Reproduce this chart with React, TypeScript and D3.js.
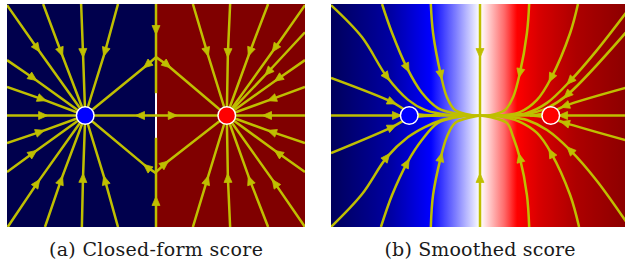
import React from "react";
import * as d3 from "d3";

type Pt = [number, number];
type Stream = { pts: Pt[]; arrow: number };

// positions of the two data points (both panels)
const dotX = [-1.9, 1.9];
const dotColor = ["#0000ff", "#ff0000"];

// (a) closed-form score: straight streamlines, arrow at pts[arrow]
const closedLines: Stream[] = [
  // upper left
  { pts: [[-4, 2.97], [-3.19, 1.81], [-1.9, 0]], arrow: 1 },
  { pts: [[-3.03, 3], [-2.55, 1.71], [-1.9, 0]], arrow: 1 },
  { pts: [[-2.01, 3], [-1.96, 1.68], [-1.9, 0]], arrow: 1 },
  { pts: [[-1.02, 3], [-1.37, 1.71], [-1.9, 0]], arrow: 1 },
  { pts: [[0, 1.57], [-0.24, 1.36], [-1.9, 0]], arrow: 1 },
  { pts: [[-4, 1.49], [-3.3, 1.01], [-1.9, 0]], arrow: 1 },
  { pts: [[-4, 0.77], [-3.06, 0.44], [-1.9, 0]], arrow: 1 },
  { pts: [[-4, 0], [-3.03, 0], [-1.9, 0]], arrow: 1 },
  { pts: [[0, 0], [-0.43, 0], [-1.9, 0]], arrow: 1 },
  // lower left
  { pts: [[-4, -0.74], [-3.11, -0.44], [-1.9, 0]], arrow: 1 },
  { pts: [[-4, -1.52], [-3.3, -1.01], [-1.9, 0]], arrow: 1 },
  { pts: [[-3.98, -3], [-3.19, -1.82], [-1.9, 0]], arrow: 1 },
  { pts: [[-2.98, -3], [-2.55, -1.74], [-1.9, 0]], arrow: 1 },
  { pts: [[-1.99, -3], [-1.96, -1.68], [-1.9, 0]], arrow: 1 },
  { pts: [[-1.02, -3], [-1.37, -1.74], [-1.9, 0]], arrow: 1 },
  { pts: [[0, -1.55], [-0.24, -1.39], [-1.9, 0]], arrow: 1 },
  // divider
  { pts: [[0, 3], [0, 2.3], [0, 0.6]], arrow: 1 },
  { pts: [[0, -3], [0, -2.3], [0, -0.6]], arrow: 1 },
  // upper right
  { pts: [[0.99, 3], [1.37, 1.71], [1.9, 0]], arrow: 1 },
  { pts: [[1.99, 3], [1.93, 1.68], [1.9, 0]], arrow: 1 },
  { pts: [[3.01, 3], [2.52, 1.71], [1.9, 0]], arrow: 1 },
  { pts: [[4, 2.97], [3.19, 1.81], [1.9, 0]], arrow: 1 },
  { pts: [[4, 2.24], [3.01, 1.17], [1.9, 0]], arrow: 1 },
  { pts: [[4, 1.49], [3.28, 0.99], [1.9, 0]], arrow: 1 },
  { pts: [[4, 0.77], [3.11, 0.44], [1.9, 0]], arrow: 1 },
  { pts: [[4, 0], [2.98, 0], [1.9, 0]], arrow: 1 },
  { pts: [[0, 0], [0.45, 0], [1.9, 0]], arrow: 1 },
  { pts: [[0, 1.57], [0.3, 1.36], [1.9, 0]], arrow: 1 },
  // lower right
  { pts: [[0.99, -3], [1.37, -1.74], [1.9, 0]], arrow: 1 },
  { pts: [[1.99, -3], [1.93, -1.68], [1.9, 0]], arrow: 1 },
  { pts: [[3.01, -3], [2.52, -1.74], [1.9, 0]], arrow: 1 },
  { pts: [[4, -3], [3.19, -1.82], [1.9, 0]], arrow: 1 },
  { pts: [[4, -0.74], [3.11, -0.44], [1.9, 0]], arrow: 1 },
  { pts: [[4, -1.52], [3.28, -1.01], [1.9, 0]], arrow: 1 },
  { pts: [[0, -1.52], [0.24, -1.3], [1.9, 0]], arrow: 1 },
];

// (b) smoothed score: curved streamlines
const smoothLines: Stream[] = [
  // upper left
  { pts: [[-4, 2.97], [-3.17, 2.11], [-2.5, 1.04], [-1.93, 0.42], [-1.48, 0.15], [-1.02, 0.04], [-0.67, 0]], arrow: 2 },
  { pts: [[-4, 1.01], [-2.36, 0.36], [-2.01, 0.15], [-1.74, 0.04], [-1.07, 0]], arrow: 1 },
  { pts: [[-2.63, 3], [-2.36, 2.22], [-1.96, 1.28], [-1.56, 0.61], [-1.13, 0.2], [-0.59, 0.04], [-0.27, 0]], arrow: 2 },
  { pts: [[-1.32, 3], [-1.26, 2.22], [-1.05, 1.09], [-0.89, 0.5], [-0.67, 0.15], [-0.21, 0.01], [0, 0]], arrow: 2 },
  { pts: [[-4, 0], [-2.23, 0], [-1.9, 0]], arrow: 1 },
  // lower left
  { pts: [[-4, -3], [-3.17, -2.12], [-2.5, -1.12], [-1.93, -0.58], [-1.48, -0.31], [-1.02, -0.12], [-0.67, -0.04], [-0.4, 0]], arrow: 2 },
  { pts: [[-4, -1.01], [-2.36, -0.31], [-2.01, -0.12], [-1.74, -0.04], [-1.07, 0]], arrow: 1 },
  { pts: [[-2.66, -3], [-2.36, -2.14], [-1.96, -1.28], [-1.56, -0.66], [-1.13, -0.2], [-0.59, -0.04], [-0.27, 0]], arrow: 2 },
  { pts: [[-1.32, -3], [-1.26, -2.14], [-1.05, -1.12], [-0.89, -0.58], [-0.67, -0.2], [-0.21, -0.04], [0, 0]], arrow: 2 },
  // centre
  { pts: [[0, 0], [-1.9, 0]], arrow: -1 },
  { pts: [[0, 0], [1.9, 0]], arrow: -1 },
  { pts: [[0, 3], [0, 1.68], [0, 0]], arrow: 1 },
  { pts: [[0, -3], [0, -1.68], [0, 0]], arrow: 1 },
  // upper right
  { pts: [[1.32, 3], [1.26, 2.22], [1.07, 1.14], [0.89, 0.5], [0.67, 0.15], [0.27, 0.01], [0, 0]], arrow: 2 },
  { pts: [[2.63, 3], [2.42, 2.22], [1.91, 1.01], [1.53, 0.42], [1.07, 0.09], [0.62, 0.01], [0.27, 0]], arrow: 2 },
  { pts: [[4, 2.87], [3.14, 1.76], [2.42, 0.93], [1.8, 0.34], [1.26, 0.07], [0.81, 0.01], [0.4, 0]], arrow: 2 },
  { pts: [[4, 2.33], [2.34, 0.55], [1.8, 0.2], [1.26, 0.04], [0.81, 0]], arrow: 1 },
  { pts: [[4, 0.77], [2.28, 0.26], [1.91, 0.09], [1.34, 0]], arrow: 1 },
  { pts: [[4, 0], [2.23, 0], [1.9, 0]], arrow: 1 },
  // lower right
  { pts: [[1.32, -3], [1.26, -2.14], [1.07, -1.14], [0.89, -0.58], [0.72, -0.2], [0.27, -0.04], [0, 0]], arrow: 2 },
  { pts: [[2.66, -3], [2.42, -2.14], [1.91, -1.01], [1.53, -0.47], [1.07, -0.17], [0.62, -0.04], [0.27, 0]], arrow: 2 },
  { pts: [[4, -2.97], [3.14, -1.76], [2.42, -0.93], [1.8, -0.39], [1.26, -0.12], [0.81, -0.04], [0.4, 0]], arrow: 2 },
  { pts: [[4, -0.69], [2.28, -0.2], [1.91, -0.07], [1.34, 0]], arrow: 1 },
];

// (b) background: colormap value across x
const gradX = [-4, -2.39, -1.32, -0.67, -0.05, 0, 0.11, 0.67, 0.99, 1.61, 2.55, 4];
const gradV = [0.02, 0.12, 0.25, 0.37, 0.49, 0.5, 0.52, 0.65, 0.75, 0.83, 0.91, 0.98];

const captions = ["(a) Closed-form score", "(b) Smoothed score"];

const seismic = d3
  .scaleLinear<string>()
  .domain([0, 0.25, 0.5, 0.75, 1])
  .range(["#00004d", "#0000ff", "#ffffff", "#ff0000", "#800000"])
  .interpolate(d3.interpolateRgb)
  .clamp(true);

const LINE = "#bfbf00";
const panelW = 298;
const panelTop = 4;
const panelH = 223;

function Panel({ left, lines, smooth, caption, capWidth, id }: any) {
  const x = d3.scaleLinear().domain([-4, 4]).range([left, left + panelW]);
  const y = d3.scaleLinear().domain([-3, 3]).range([panelTop + panelH, panelTop]);
  const line = d3
    .line<Pt>()
    .x((d) => x(d[0]))
    .y((d) => y(d[1]))
    .curve(smooth ? d3.curveCatmullRom.alpha(0.5) : d3.curveLinear);

  const arrowHead = (s: Stream) => {
    const i = s.arrow;
    const p = s.pts[i];
    const a = s.pts[i - 1];
    const b = s.pts[i + 1];
    let dx = x(b[0]) - x(a[0]);
    let dy = y(b[1]) - y(a[1]);
    const n = Math.hypot(dx, dy);
    dx /= n;
    dy /= n;
    const cx = x(p[0]);
    const cy = y(p[1]);
    const len = 9;
    const w = 4;
    const tip = [cx + (dx * len) / 2, cy + (dy * len) / 2];
    const bx = cx - (dx * len) / 2;
    const by = cy - (dy * len) / 2;
    return `M${tip[0]},${tip[1]}L${bx - dy * w},${by + dx * w}L${bx + dy * w},${by - dx * w}Z`;
  };

  const valueAt = d3.scaleLinear().domain(gradX).range(gradV).clamp(true);
  const samples = d3.range(0, 161).map((k) => -4 + (k * 8) / 160);

  return (
    <g>
      <defs>
        <clipPath id={`clip-${id}`}>
          <rect x={left} y={panelTop} width={panelW} height={panelH} />
        </clipPath>
        {smooth && (
          <linearGradient id={`grad-${id}`} gradientUnits="userSpaceOnUse" x1={x(-4)} x2={x(4)} y1={0} y2={0}>
            {samples.map((u, k) => (
              <stop key={k} offset={(u + 4) / 8} stopColor={seismic(valueAt(u))} />
            ))}
          </linearGradient>
        )}
      </defs>
      <g clipPath={`url(#clip-${id})`}>
        {smooth ? (
          <rect x={left} y={panelTop} width={panelW} height={panelH} fill={`url(#grad-${id})`} />
        ) : (
          <>
            <rect x={x(-4)} y={panelTop} width={x(0) - x(-4)} height={panelH} fill={seismic(0)} />
            <rect x={x(0)} y={panelTop} width={x(4) - x(0)} height={panelH} fill={seismic(1)} />
            <rect x={x(0) - 1} y={panelTop} width={2} height={panelH} fill="#ffffff" />
          </>
        )}
        {lines.map((s: Stream, i: number) => (
          <path key={i} d={line(s.pts) || ""} fill="none" stroke={LINE} strokeWidth={2.5} strokeLinejoin="round" />
        ))}
        {lines
          .filter((s: Stream) => s.arrow > 0)
          .map((s: Stream, i: number) => (
            <path key={i} d={arrowHead(s)} fill={LINE} stroke={LINE} strokeWidth={0.8} />
          ))}
        {dotX.map((d, i) => (
          <circle key={i} cx={x(d)} cy={y(0)} r={8.8} fill={dotColor[i]} stroke="#ffffff" strokeWidth={1.5} />
        ))}
      </g>
      <text
        x={x(0)}
        y={256}
        textAnchor="middle"
        fontFamily="'DejaVu Serif', serif"
        fontSize={19}
        textLength={capWidth}
        lengthAdjust="spacing"
        fill="#1a1a1a"
      >
        {caption}
      </text>
    </g>
  );
}

export default function App() {
  return (
    <svg width={625} height={264} style={{ position: "absolute", left: 0, top: 0, background: "#fff" }}>
      <Panel id="a" left={7} lines={closedLines} smooth={false} caption={captions[0]} capWidth={214} />
      <Panel id="b" left={331} lines={smoothLines} smooth={true} caption={captions[1]} capWidth={191} />
    </svg>
  );
}
